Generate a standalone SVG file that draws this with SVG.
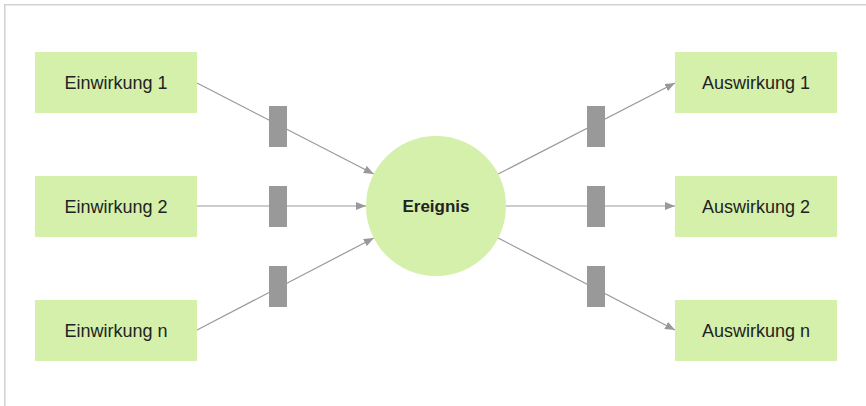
<svg xmlns="http://www.w3.org/2000/svg" width="866" height="406" viewBox="0 0 866 406">
<defs>
<marker id="arr" markerUnits="userSpaceOnUse" markerWidth="10" markerHeight="8" refX="10" refY="4" orient="auto">
<path d="M0,0 L10,4 L0,8 z" fill="#999999"/>
</marker>
<style>
.box{fill:#d4f0aa}
.bar{fill:#999999}
.lbl{font-family:"Liberation Sans",Arial,sans-serif;font-size:18px;fill:#222222;text-anchor:middle}
.ev{font-family:"Liberation Sans",Arial,sans-serif;font-size:17px;font-weight:bold;fill:#222222;text-anchor:middle}
.con{stroke:#999999;stroke-width:1.2;fill:none;marker-end:url(#arr)}
.frame{stroke:#d2d2d2;stroke-width:1.6;fill:none}
</style>
</defs>
<rect x="0" y="0" width="866" height="406" fill="#ffffff"/>
<path class="frame" d="M4.8,410 L4.8,4.8 L870,4.8"/>
<g id="connectors">
<line class="con" x1="197" y1="83" x2="373.8" y2="174"/>
<line class="con" x1="197" y1="206" x2="366" y2="206"/>
<line class="con" x1="197" y1="330" x2="373.8" y2="238"/>
<line class="con" x1="498.2" y1="174" x2="675" y2="83"/>
<line class="con" x1="506" y1="206" x2="675" y2="206"/>
<line class="con" x1="498.2" y1="238" x2="675" y2="330"/>
</g>
<g id="bars">
<rect class="bar" x="269" y="106" width="18" height="41"/>
<rect class="bar" x="269" y="186" width="18" height="41"/>
<rect class="bar" x="269" y="266" width="18" height="41"/>
<rect class="bar" x="587" y="106" width="18" height="41"/>
<rect class="bar" x="587" y="186" width="18" height="41"/>
<rect class="bar" x="587" y="266" width="18" height="41"/>
</g>
<g id="einwirkung1"><rect class="box" x="35" y="52" width="162" height="61"/><text class="lbl" x="116" y="89">Einwirkung 1</text></g>
<g id="einwirkung2"><rect class="box" x="35" y="176" width="162" height="61"/><text class="lbl" x="116" y="213">Einwirkung 2</text></g>
<g id="einwirkungn"><rect class="box" x="35" y="300" width="162" height="61"/><text class="lbl" x="116" y="337">Einwirkung n</text></g>
<g id="ereignis"><circle class="box" cx="436" cy="206" r="70"/><text class="ev" x="436" y="212">Ereignis</text></g>
<g id="auswirkung1"><rect class="box" x="675" y="52" width="162" height="61"/><text class="lbl" x="756" y="89">Auswirkung 1</text></g>
<g id="auswirkung2"><rect class="box" x="675" y="176" width="162" height="61"/><text class="lbl" x="756" y="213">Auswirkung 2</text></g>
<g id="auswirkungn"><rect class="box" x="675" y="300" width="162" height="61"/><text class="lbl" x="756" y="337">Auswirkung n</text></g>
</svg>
